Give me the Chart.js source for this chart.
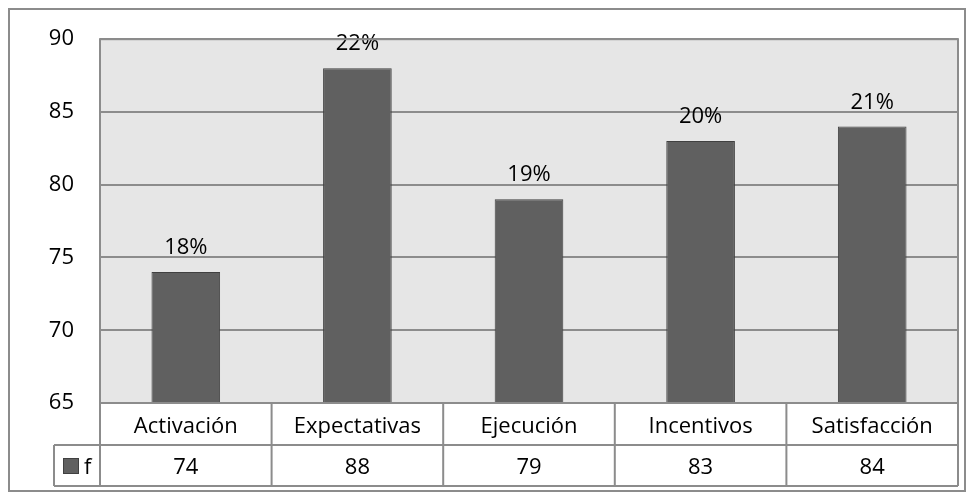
<!DOCTYPE html>
<html>
<head>
<meta charset="utf-8">
<script src="https://cdn.jsdelivr.net/npm/chart.js@4"></script>
<style>
  html, body { margin: 0; padding: 0; background: #fff; }
  #wrap { width: 974px; height: 493px; position: relative; }
</style>
</head>
<body>
<div id="wrap"><canvas id="grafico" width="974" height="493"></canvas></div>
<script>
// datos
var categorias = ['Activación', 'Expectativas', 'Ejecución', 'Incentivos', 'Satisfacción'];
var frecuencias = [74, 88, 79, 83, 84];
var porcentajes = ['18%', '22%', '19%', '20%', '21%'];
var serie = 'f';
var ejeY = { min: 65, max: 90, paso: 5 };

var fuente = '"Open Sans", "Liberation Sans", sans-serif';
var gris = '#8c8c8c';

// etiquetas de porcentaje y tabla de datos debajo
var tablaPlugin = {
    id: 'tabla',
    afterDatasetsDraw: function(chart) {
        var ctx = chart.ctx;
        var meta = chart.getDatasetMeta(0);
        ctx.save();
        ctx.fillStyle = '#000';
        ctx.font = '22px ' + fuente;
        ctx.textAlign = 'center';
        ctx.textBaseline = 'alphabetic';
        meta.data.forEach(function(bar, i) {
            ctx.fillText(porcentajes[i], bar.x, bar.y - 18);
        });
        ctx.restore();
    },
    afterDraw: function(chart) {
        var ctx = chart.ctx;
        var area = chart.chartArea;
        var x = chart.scales.x;
        var fila = 42;
        var y0 = area.bottom, y1 = y0 + fila, y2 = y1 + fila - 1;
        var izq = 54;
        ctx.save();
        ctx.strokeStyle = gris;
        ctx.lineWidth = 2;
        // marco del área del gráfico
        ctx.strokeRect(area.left, area.top, area.right - area.left, area.bottom - area.top);
        // líneas horizontales de la tabla
        ctx.beginPath();
        ctx.moveTo(area.left, y1); ctx.lineTo(area.right, y1);
        ctx.moveTo(izq, y1); ctx.lineTo(area.left, y1);
        ctx.moveTo(izq, y2); ctx.lineTo(area.right, y2);
        // verticales
        ctx.moveTo(izq, y1); ctx.lineTo(izq, y2);
        ctx.moveTo(area.left, y0); ctx.lineTo(area.left, y2);
        var ancho = (area.right - area.left) / categorias.length;
        for (var i = 1; i <= categorias.length; i++) {
            var xl = area.left + ancho * i;
            ctx.moveTo(xl, y0); ctx.lineTo(xl, y2);
        }
        ctx.stroke();

        ctx.fillStyle = '#000';
        ctx.font = '22px ' + fuente;
        ctx.textAlign = 'center';
        ctx.textBaseline = 'alphabetic';
        categorias.forEach(function(c, i) {
            var cx = x.getPixelForValue(i);
            ctx.fillText(c, cx, y0 + 30);
            ctx.fillText(String(frecuencias[i]), cx, y1 + 29);
        });
        // clave de la leyenda
        ctx.fillStyle = '#606060';
        ctx.fillRect(63, y1 + 13, 16, 16);
        ctx.strokeStyle = '#404040';
        ctx.lineWidth = 1;
        ctx.strokeRect(63.5, y1 + 13.5, 15, 15);
        ctx.fillStyle = '#000';
        ctx.textAlign = 'left';
        ctx.fillText(serie, 84, y1 + 29);
        ctx.restore();
    }
};

var fondoPlugin = {
    id: 'fondo',
    beforeDraw: function(chart) {
        var ctx = chart.ctx;
        var a = chart.chartArea;
        ctx.save();
        ctx.fillStyle = '#fff';
        ctx.fillRect(0, 0, chart.width, chart.height);
        ctx.strokeStyle = gris;
        ctx.lineWidth = 2;
        ctx.strokeRect(9, 9, 956, 482);
        ctx.fillStyle = '#e6e6e6';
        ctx.fillRect(a.left, a.top, a.right - a.left, a.bottom - a.top);
        ctx.restore();
    }
};

var ctx = document.getElementById('grafico').getContext('2d');
var grafico = new Chart(ctx, {
    type: 'bar',
    data: {
        labels: categorias,
        datasets: [{
            label: serie,
            data: frecuencias,
            backgroundColor: '#606060',
            borderColor: '#404040',
            borderWidth: 1,
            categoryPercentage: 1,
            barPercentage: 0.4
        }]
    },
    options: {
        responsive: false,
        animation: false,
        layout: { padding: { left: 9, top: 39, right: 16, bottom: 90 } },
        plugins: {
            legend: { display: false },
            tooltip: { enabled: false }
        },
        scales: {
            x: {
                display: true,
                grid: { display: false, drawTicks: false },
                border: { display: false },
                ticks: { display: false }
            },
            y: {
                min: ejeY.min,
                max: ejeY.max,
                afterFit: function(s) { s.width = 91; },
                ticks: {
                    stepSize: ejeY.paso,
                    padding: 26,
                    color: '#000',
                    font: { family: fuente, size: 22 }
                },
                grid: { color: gris, lineWidth: 2, drawTicks: false },
                border: { display: false }
            }
        }
    },
    plugins: [fondoPlugin, tablaPlugin]
});
</script>
</body>
</html>
